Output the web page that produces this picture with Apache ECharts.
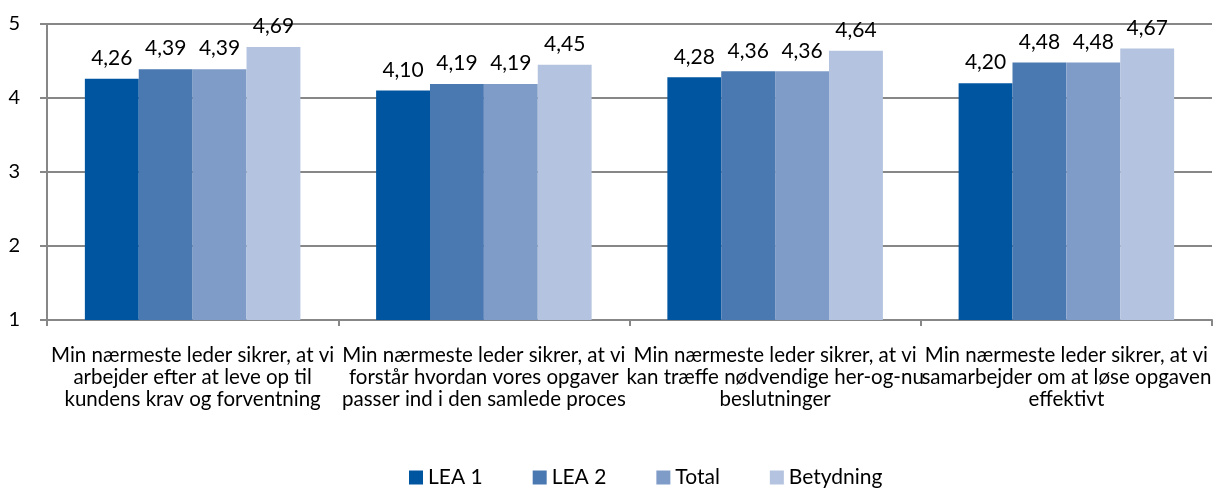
<!DOCTYPE html>
<html>
<head>
<meta charset="utf-8">
<script src="https://cdn.jsdelivr.net/npm/echarts@6/dist/echarts.min.js"></script>
<style>
  html, body { margin: 0; padding: 0; background: #fff; }
  #chart { width: 1222px; height: 489px; }
</style>
</head>
<body>
<div id="chart"></div>
<script>
// data
const categories = [
  'Min nærmeste leder sikrer, at vi\narbejder efter at leve op til\nkundens krav og forventning',
  'Min nærmeste leder sikrer, at vi\nforstår hvordan vores opgaver\npasser ind i den samlede proces',
  'Min nærmeste leder sikrer, at vi\nkan træffe nødvendige her-og-nu\nbeslutninger',
  'Min nærmeste leder sikrer, at vi\nsamarbejder om at løse opgaven\neffektivt'
]
const lea1 = [4.26, 4.10, 4.28, 4.20]
const lea2 = [4.39, 4.19, 4.36, 4.48]
const total = [4.39, 4.19, 4.36, 4.48]
const betydning = [4.69, 4.45, 4.64, 4.67]
const seriesNames = ['LEA 1', 'LEA 2', 'Total', 'Betydning']
const colors = ['#0055A0', '#4A78B1', '#7F9CC8', '#B4C3DF']

const font = 'Lato, sans-serif'
const gridColor = '#878787'

const label = {
  show: true,
  position: 'top',
  distance: 10,
  color: '#000',
  fontSize: 21,
  fontFamily: font,
  formatter: p => p.value.toFixed(2).replace('.', ',')
}

const option = {
  animation: false,
  textStyle: { fontFamily: font },
  color: colors,
  grid: { left: 47, right: 10, top: 24, bottom: 169 },
  legend: {
    top: 462,
    left: 404,
    itemWidth: 14,
    itemHeight: 14,
    itemGap: 50,
    icon: 'rect',
    textStyle: { fontSize: 21, color: '#000', fontFamily: font }
  },
  xAxis: {
    type: 'category',
    data: categories,
    axisLine: { lineStyle: { color: gridColor, width: 2 } },
    axisTick: { show: true, length: 6, lineStyle: { color: gridColor, width: 2 } },
    axisLabel: {
      interval: 0,
      margin: 24,
      fontSize: 20.5,
      lineHeight: 22,
      color: '#000',
      fontFamily: font
    }
  },
  yAxis: {
    type: 'value',
    min: 1,
    max: 5,
    interval: 1,
    axisLine: { show: true, lineStyle: { color: gridColor, width: 2 } },
    axisTick: { show: true, length: 7, lineStyle: { color: gridColor, width: 2 } },
    splitLine: { lineStyle: { color: gridColor, width: 2 } },
    axisLabel: { fontSize: 20, color: '#000', margin: 27, fontFamily: font }
  },
  series: [
    { name: seriesNames[0], type: 'bar', data: lea1, barGap: '0%', barCategoryGap: '26%', label },
    { name: seriesNames[1], type: 'bar', data: lea2, label },
    { name: seriesNames[2], type: 'bar', data: total, label },
    { name: seriesNames[3], type: 'bar', data: betydning, label }
  ]
}

const chart = echarts.init(document.getElementById('chart'))
chart.setOption(option)
window.onresize = function () {
  chart.resize()
}
</script>
</body>
</html>
